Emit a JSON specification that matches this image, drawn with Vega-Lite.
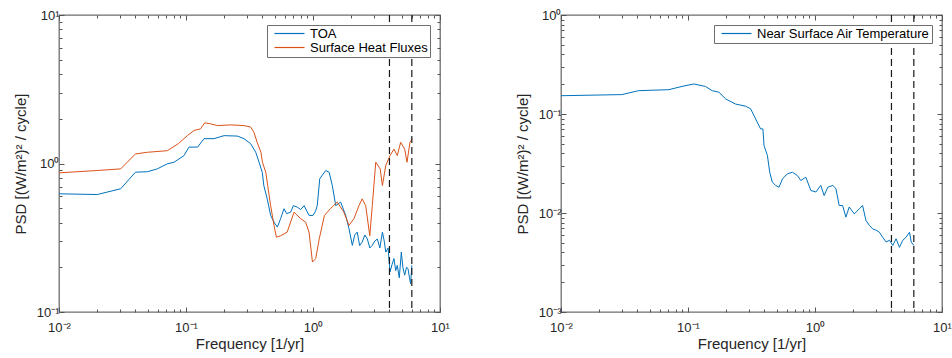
{
  "$schema": "https://vega.github.io/schema/vega-lite/v6.json",
  "padding": {"left": 12, "top": 8, "right": 0, "bottom": 0},
  "spacing": 63,
  "config": {
    "font": "Liberation Sans",
    "view": {"stroke": "#6e6e6e", "strokeWidth": 1.3},
    "axis": {"domain": false, "grid": false, "tickColor": "#555555", "labelColor": "#262626", "labelFont": "Liberation Sans", "labelFontSize": 13, "labelFlush": false, "titleFont": "Liberation Sans", "titleFontSize": 15, "titleFontWeight": "normal", "titleColor": "#262626"},
    "legend": {"title": null, "orient": "top-right", "offset": 10, "symbolType": "M-0.2,0H5.8", "symbolSize": 100, "symbolStrokeWidth": 1.2, "strokeColor": "#6e6e6e", "fillColor": "white", "padding": 2, "rowPadding": 0, "labelFontSize": 13, "labelFont": "Liberation Sans", "labelColor": "#000000", "labelOffset": 28, "labelLimit": 400}
  },
  "resolve": {"scale": {"color": "independent"}, "legend": {"color": "independent"}},
  "datasets": {
    "left": [
      {"s": "TOA", "f": 0.01, "v": 0.625}, {"s": "TOA", "f": 0.02, "v": 0.618}, {"s": "TOA", "f": 0.0306, "v": 0.676}, {"s": "TOA", "f": 0.04, "v": 0.874}, {"s": "TOA", "f": 0.0497, "v": 0.88}, {"s": "TOA", "f": 0.0594, "v": 0.92}, {"s": "TOA", "f": 0.0713, "v": 0.995}, {"s": "TOA", "f": 0.0805, "v": 1.02}, {"s": "TOA", "f": 0.0964, "v": 1.13}, {"s": "TOA", "f": 0.1056, "v": 1.29}, {"s": "TOA", "f": 0.1236, "v": 1.29}, {"s": "TOA", "f": 0.1387, "v": 1.47}, {"s": "TOA", "f": 0.166, "v": 1.47}, {"s": "TOA", "f": 0.1995, "v": 1.54}, {"s": "TOA", "f": 0.2536, "v": 1.53}, {"s": "TOA", "f": 0.286, "v": 1.47}, {"s": "TOA", "f": 0.323, "v": 1.36}, {"s": "TOA", "f": 0.354, "v": 1.19}, {"s": "TOA", "f": 0.376, "v": 1.02}, {"s": "TOA", "f": 0.399, "v": 0.87}, {"s": "TOA", "f": 0.41, "v": 0.71}, {"s": "TOA", "f": 0.436, "v": 0.578}, {"s": "TOA", "f": 0.464, "v": 0.447}, {"s": "TOA", "f": 0.493, "v": 0.403}, {"s": "TOA", "f": 0.524, "v": 0.373}, {"s": "TOA", "f": 0.556, "v": 0.425}, {"s": "TOA", "f": 0.591, "v": 0.496}, {"s": "TOA", "f": 0.62, "v": 0.46}, {"s": "TOA", "f": 0.667, "v": 0.47}, {"s": "TOA", "f": 0.7, "v": 0.52}, {"s": "TOA", "f": 0.753, "v": 0.508}, {"s": "TOA", "f": 0.8, "v": 0.49}, {"s": "TOA", "f": 0.851, "v": 0.52}, {"s": "TOA", "f": 0.931, "v": 0.447}, {"s": "TOA", "f": 1.0, "v": 0.447}, {"s": "TOA", "f": 1.05, "v": 0.48}, {"s": "TOA", "f": 1.08, "v": 0.52}, {"s": "TOA", "f": 1.13, "v": 0.789}, {"s": "TOA", "f": 1.26, "v": 0.897}, {"s": "TOA", "f": 1.34, "v": 0.874}, {"s": "TOA", "f": 1.42, "v": 0.71}, {"s": "TOA", "f": 1.51, "v": 0.52}, {"s": "TOA", "f": 1.65, "v": 0.55}, {"s": "TOA", "f": 1.81, "v": 0.447}, {"s": "TOA", "f": 1.92, "v": 0.364}, {"s": "TOA", "f": 2.04, "v": 0.281}, {"s": "TOA", "f": 2.13, "v": 0.33}, {"s": "TOA", "f": 2.23, "v": 0.345}, {"s": "TOA", "f": 2.33, "v": 0.28}, {"s": "TOA", "f": 2.44, "v": 0.296}, {"s": "TOA", "f": 2.56, "v": 0.33}, {"s": "TOA", "f": 2.68, "v": 0.31}, {"s": "TOA", "f": 2.8, "v": 0.27}, {"s": "TOA", "f": 2.93, "v": 0.281}, {"s": "TOA", "f": 3.06, "v": 0.3}, {"s": "TOA", "f": 3.21, "v": 0.31}, {"s": "TOA", "f": 3.36, "v": 0.27}, {"s": "TOA", "f": 3.52, "v": 0.345}, {"s": "TOA", "f": 3.64, "v": 0.3}, {"s": "TOA", "f": 3.74, "v": 0.253}, {"s": "TOA", "f": 3.9, "v": 0.27}, {"s": "TOA", "f": 4.04, "v": 0.186}, {"s": "TOA", "f": 4.2, "v": 0.21}, {"s": "TOA", "f": 4.34, "v": 0.229}, {"s": "TOA", "f": 4.48, "v": 0.19}, {"s": "TOA", "f": 4.61, "v": 0.206}, {"s": "TOA", "f": 4.78, "v": 0.17}, {"s": "TOA", "f": 4.96, "v": 0.253}, {"s": "TOA", "f": 5.1, "v": 0.2}, {"s": "TOA", "f": 5.27, "v": 0.177}, {"s": "TOA", "f": 5.45, "v": 0.2}, {"s": "TOA", "f": 5.6, "v": 0.196}, {"s": "TOA", "f": 5.75, "v": 0.17}, {"s": "TOA", "f": 5.87, "v": 0.155}, {"s": "TOA", "f": 6.0, "v": 0.206},
      {"s": "Surface Heat Fluxes", "f": 0.01, "v": 0.865}, {"s": "Surface Heat Fluxes", "f": 0.02, "v": 0.897}, {"s": "Surface Heat Fluxes", "f": 0.0306, "v": 0.92}, {"s": "Surface Heat Fluxes", "f": 0.04, "v": 1.16}, {"s": "Surface Heat Fluxes", "f": 0.0497, "v": 1.19}, {"s": "Surface Heat Fluxes", "f": 0.0713, "v": 1.22}, {"s": "Surface Heat Fluxes", "f": 0.087, "v": 1.36}, {"s": "Surface Heat Fluxes", "f": 0.1025, "v": 1.54}, {"s": "Surface Heat Fluxes", "f": 0.116, "v": 1.67}, {"s": "Surface Heat Fluxes", "f": 0.13, "v": 1.71}, {"s": "Surface Heat Fluxes", "f": 0.1405, "v": 1.88}, {"s": "Surface Heat Fluxes", "f": 0.156, "v": 1.85}, {"s": "Surface Heat Fluxes", "f": 0.177, "v": 1.8}, {"s": "Surface Heat Fluxes", "f": 0.2245, "v": 1.82}, {"s": "Surface Heat Fluxes", "f": 0.286, "v": 1.8}, {"s": "Surface Heat Fluxes", "f": 0.323, "v": 1.76}, {"s": "Surface Heat Fluxes", "f": 0.343, "v": 1.62}, {"s": "Surface Heat Fluxes", "f": 0.363, "v": 1.39}, {"s": "Surface Heat Fluxes", "f": 0.389, "v": 1.19}, {"s": "Surface Heat Fluxes", "f": 0.4, "v": 1.02}, {"s": "Surface Heat Fluxes", "f": 0.425, "v": 0.87}, {"s": "Surface Heat Fluxes", "f": 0.44, "v": 0.71}, {"s": "Surface Heat Fluxes", "f": 0.464, "v": 0.52}, {"s": "Surface Heat Fluxes", "f": 0.493, "v": 0.383}, {"s": "Surface Heat Fluxes", "f": 0.515, "v": 0.319}, {"s": "Surface Heat Fluxes", "f": 0.556, "v": 0.326}, {"s": "Surface Heat Fluxes", "f": 0.626, "v": 0.345}, {"s": "Surface Heat Fluxes", "f": 0.709, "v": 0.47}, {"s": "Surface Heat Fluxes", "f": 0.8, "v": 0.425}, {"s": "Surface Heat Fluxes", "f": 0.874, "v": 0.403}, {"s": "Surface Heat Fluxes", "f": 0.931, "v": 0.345}, {"s": "Surface Heat Fluxes", "f": 0.99, "v": 0.217}, {"s": "Surface Heat Fluxes", "f": 1.05, "v": 0.229}, {"s": "Surface Heat Fluxes", "f": 1.12, "v": 0.311}, {"s": "Surface Heat Fluxes", "f": 1.23, "v": 0.447}, {"s": "Surface Heat Fluxes", "f": 1.37, "v": 0.496}, {"s": "Surface Heat Fluxes", "f": 1.55, "v": 0.55}, {"s": "Surface Heat Fluxes", "f": 1.75, "v": 0.47}, {"s": "Surface Heat Fluxes", "f": 1.92, "v": 0.383}, {"s": "Surface Heat Fluxes", "f": 2.1, "v": 0.425}, {"s": "Surface Heat Fluxes", "f": 2.3, "v": 0.52}, {"s": "Surface Heat Fluxes", "f": 2.44, "v": 0.578}, {"s": "Surface Heat Fluxes", "f": 2.6, "v": 0.52}, {"s": "Surface Heat Fluxes", "f": 2.8, "v": 0.326}, {"s": "Surface Heat Fluxes", "f": 2.93, "v": 0.52}, {"s": "Surface Heat Fluxes", "f": 3.12, "v": 1.02}, {"s": "Surface Heat Fluxes", "f": 3.38, "v": 0.92}, {"s": "Surface Heat Fluxes", "f": 3.52, "v": 0.71}, {"s": "Surface Heat Fluxes", "f": 3.74, "v": 0.97}, {"s": "Surface Heat Fluxes", "f": 4.04, "v": 1.13}, {"s": "Surface Heat Fluxes", "f": 4.34, "v": 1.25}, {"s": "Surface Heat Fluxes", "f": 4.61, "v": 1.13}, {"s": "Surface Heat Fluxes", "f": 4.9, "v": 1.39}, {"s": "Surface Heat Fluxes", "f": 5.27, "v": 1.25}, {"s": "Surface Heat Fluxes", "f": 5.5, "v": 1.02}, {"s": "Surface Heat Fluxes", "f": 5.8, "v": 1.39}, {"s": "Surface Heat Fluxes", "f": 6.05, "v": 1.47}
    ],
    "right": [
      {"s": "Near Surface Air Temperature", "f": 0.01, "v": 0.153}, {"s": "Near Surface Air Temperature", "f": 0.0301, "v": 0.157}, {"s": "Near Surface Air Temperature", "f": 0.0408, "v": 0.172}, {"s": "Near Surface Air Temperature", "f": 0.0705, "v": 0.176}, {"s": "Near Surface Air Temperature", "f": 0.0898, "v": 0.19}, {"s": "Near Surface Air Temperature", "f": 0.111, "v": 0.201}, {"s": "Near Surface Air Temperature", "f": 0.137, "v": 0.19}, {"s": "Near Surface Air Temperature", "f": 0.155, "v": 0.172}, {"s": "Near Surface Air Temperature", "f": 0.175, "v": 0.166}, {"s": "Near Surface Air Temperature", "f": 0.198, "v": 0.142}, {"s": "Near Surface Air Temperature", "f": 0.237, "v": 0.126}, {"s": "Near Surface Air Temperature", "f": 0.284, "v": 0.12}, {"s": "Near Surface Air Temperature", "f": 0.311, "v": 0.113}, {"s": "Near Surface Air Temperature", "f": 0.341, "v": 0.089}, {"s": "Near Surface Air Temperature", "f": 0.373, "v": 0.0707}, {"s": "Near Surface Air Temperature", "f": 0.389, "v": 0.0707}, {"s": "Near Surface Air Temperature", "f": 0.397, "v": 0.048}, {"s": "Near Surface Air Temperature", "f": 0.422, "v": 0.0381}, {"s": "Near Surface Air Temperature", "f": 0.44, "v": 0.0258}, {"s": "Near Surface Air Temperature", "f": 0.461, "v": 0.0205}, {"s": "Near Surface Air Temperature", "f": 0.49, "v": 0.019}, {"s": "Near Surface Air Temperature", "f": 0.521, "v": 0.0182}, {"s": "Near Surface Air Temperature", "f": 0.554, "v": 0.0221}, {"s": "Near Surface Air Temperature", "f": 0.607, "v": 0.0249}, {"s": "Near Surface Air Temperature", "f": 0.664, "v": 0.0258}, {"s": "Near Surface Air Temperature", "f": 0.727, "v": 0.0239}, {"s": "Near Surface Air Temperature", "f": 0.773, "v": 0.0213}, {"s": "Near Surface Air Temperature", "f": 0.847, "v": 0.023}, {"s": "Near Surface Air Temperature", "f": 0.927, "v": 0.0169}, {"s": "Near Surface Air Temperature", "f": 1.016, "v": 0.0163}, {"s": "Near Surface Air Temperature", "f": 1.11, "v": 0.019}, {"s": "Near Surface Air Temperature", "f": 1.18, "v": 0.015}, {"s": "Near Surface Air Temperature", "f": 1.26, "v": 0.0182}, {"s": "Near Surface Air Temperature", "f": 1.38, "v": 0.019}, {"s": "Near Surface Air Temperature", "f": 1.46, "v": 0.0177}, {"s": "Near Surface Air Temperature", "f": 1.55, "v": 0.0119}, {"s": "Near Surface Air Temperature", "f": 1.65, "v": 0.0119}, {"s": "Near Surface Air Temperature", "f": 1.75, "v": 0.00908}, {"s": "Near Surface Air Temperature", "f": 1.86, "v": 0.0115}, {"s": "Near Surface Air Temperature", "f": 2.04, "v": 0.0098}, {"s": "Near Surface Air Temperature", "f": 2.23, "v": 0.011}, {"s": "Near Surface Air Temperature", "f": 2.37, "v": 0.0119}, {"s": "Near Surface Air Temperature", "f": 2.52, "v": 0.00838}, {"s": "Near Surface Air Temperature", "f": 2.68, "v": 0.0075}, {"s": "Near Surface Air Temperature", "f": 2.85, "v": 0.0069}, {"s": "Near Surface Air Temperature", "f": 3.03, "v": 0.0067}, {"s": "Near Surface Air Temperature", "f": 3.21, "v": 0.0064}, {"s": "Near Surface Air Temperature", "f": 3.41, "v": 0.0057}, {"s": "Near Surface Air Temperature", "f": 3.63, "v": 0.0051}, {"s": "Near Surface Air Temperature", "f": 3.86, "v": 0.0053}, {"s": "Near Surface Air Temperature", "f": 4.1, "v": 0.0047}, {"s": "Near Surface Air Temperature", "f": 4.35, "v": 0.0055}, {"s": "Near Surface Air Temperature", "f": 4.62, "v": 0.0045}, {"s": "Near Surface Air Temperature", "f": 4.91, "v": 0.0053}, {"s": "Near Surface Air Temperature", "f": 5.22, "v": 0.0057}, {"s": "Near Surface Air Temperature", "f": 5.55, "v": 0.0064}, {"s": "Near Surface Air Temperature", "f": 5.72, "v": 0.0051}, {"s": "Near Surface Air Temperature", "f": 6.0, "v": 0.0047}
    ],
    "dash": [{"f": 4}, {"f": 6}]
  },
  "hconcat": [
    {
      "width": 381, "height": 297,
      "data": {"name": "left"},
      "resolve": {"axis": {"x": "independent", "y": "independent"}},
      "layer": [
        {
          "mark": {"type": "line", "strokeWidth": 1, "clip": true},
          "encoding": {
            "x": {"field": "f", "type": "quantitative", "scale": {"type": "log", "domain": [0.01, 10], "nice": false},
              "axis": {"orient": "bottom", "values": [0.01, 0.1, 1, 10], "tickSize": -5, "labelPadding": 14, "title": "Frequency [1/yr]", "titlePadding": 2,
                "labelExpr": "datum.value < 0.015 ? '10⁻²' : datum.value < 0.15 ? '10⁻¹' : datum.value < 1.5 ? '10⁰' : '10¹'"}},
            "y": {"field": "v", "type": "quantitative", "scale": {"type": "log", "domain": [0.1, 10], "nice": false},
              "axis": {"orient": "left", "values": [0.1, 1, 10], "tickSize": -5, "labelPadding": 5, "title": "PSD [(W/m²)² / cycle]", "titlePadding": 8,
                "labelExpr": "datum.value < 0.15 ? '10⁻¹' : datum.value < 1.5 ? '10⁰' : '10¹'"}},
            "color": {"field": "s", "type": "nominal", "scale": {"domain": ["TOA", "Surface Heat Fluxes"], "range": ["#0072BD", "#D95319"]}}
          }
        },
        {
          "mark": {"type": "point", "opacity": 0},
          "encoding": {
            "x": {"field": "f", "type": "quantitative", "scale": {"type": "log", "domain": [0.01, 10], "nice": false},
              "axis": {"orient": "top", "values": [0.01, 0.1, 1, 10], "tickSize": -5, "labels": false, "title": null}},
            "y": {"field": "v", "type": "quantitative", "scale": {"type": "log", "domain": [0.1, 10], "nice": false},
              "axis": {"orient": "right", "values": [0.1, 1, 10], "tickSize": -5, "labels": false, "title": null}}
          }
        },
        {
          "mark": {"type": "point", "opacity": 0},
          "encoding": {
            "x": {"field": "f", "type": "quantitative", "scale": {"type": "log", "domain": [0.01, 10], "nice": false},
              "axis": {"orient": "bottom", "values": [0.02, 0.03, 0.04, 0.05, 0.06, 0.07, 0.08, 0.09, 0.2, 0.3, 0.4, 0.5, 0.6, 0.7, 0.8, 0.9, 2, 3, 4, 5, 6, 7, 8, 9], "tickSize": -3, "labels": false, "title": null}},
            "y": {"field": "v", "type": "quantitative", "scale": {"type": "log", "domain": [0.1, 10], "nice": false},
              "axis": {"orient": "left", "values": [0.2, 0.3, 0.4, 0.5, 0.6, 0.7, 0.8, 0.9, 2, 3, 4, 5, 6, 7, 8, 9], "tickSize": -3, "labels": false, "title": null}}
          }
        },
        {
          "mark": {"type": "point", "opacity": 0},
          "encoding": {
            "x": {"field": "f", "type": "quantitative", "scale": {"type": "log", "domain": [0.01, 10], "nice": false},
              "axis": {"orient": "top", "values": [0.02, 0.03, 0.04, 0.05, 0.06, 0.07, 0.08, 0.09, 0.2, 0.3, 0.4, 0.5, 0.6, 0.7, 0.8, 0.9, 2, 3, 4, 5, 6, 7, 8, 9], "tickSize": -3, "labels": false, "title": null}},
            "y": {"field": "v", "type": "quantitative", "scale": {"type": "log", "domain": [0.1, 10], "nice": false},
              "axis": {"orient": "right", "values": [0.2, 0.3, 0.4, 0.5, 0.6, 0.7, 0.8, 0.9, 2, 3, 4, 5, 6, 7, 8, 9], "tickSize": -3, "labels": false, "title": null}}
          }
        },
        {
          "data": {"name": "dash"},
          "mark": {"type": "rule", "strokeDash": [7, 4], "color": "#1a1a1a", "strokeWidth": 1.2},
          "encoding": {"x": {"field": "f", "type": "quantitative", "scale": {"type": "log", "domain": [0.01, 10], "nice": false}, "axis": null}}
        }
      ]
    },
    {
      "width": 381, "height": 297,
      "data": {"name": "right"},
      "resolve": {"axis": {"x": "independent", "y": "independent"}},
      "layer": [
        {
          "mark": {"type": "line", "strokeWidth": 1, "clip": true},
          "encoding": {
            "x": {"field": "f", "type": "quantitative", "scale": {"type": "log", "domain": [0.01, 10], "nice": false},
              "axis": {"orient": "bottom", "values": [0.01, 0.1, 1, 10], "tickSize": -5, "labelPadding": 14, "title": "Frequency [1/yr]", "titlePadding": 2,
                "labelExpr": "datum.value < 0.015 ? '10⁻²' : datum.value < 0.15 ? '10⁻¹' : datum.value < 1.5 ? '10⁰' : '10¹'"}},
            "y": {"field": "v", "type": "quantitative", "scale": {"type": "log", "domain": [0.001, 1], "nice": false},
              "axis": {"orient": "left", "values": [0.001, 0.01, 0.1, 1], "tickSize": -5, "labelPadding": 5, "title": "PSD [(W/m²)² / cycle]", "titlePadding": 8,
                "labelExpr": "datum.value < 0.0015 ? '10⁻³' : datum.value < 0.015 ? '10⁻²' : datum.value < 0.15 ? '10⁻¹' : '10⁰'"}},
            "color": {"field": "s", "type": "nominal", "scale": {"domain": ["Near Surface Air Temperature"], "range": ["#0072BD"]}}
          }
        },
        {
          "mark": {"type": "point", "opacity": 0},
          "encoding": {
            "x": {"field": "f", "type": "quantitative", "scale": {"type": "log", "domain": [0.01, 10], "nice": false},
              "axis": {"orient": "top", "values": [0.01, 0.1, 1, 10], "tickSize": -5, "labels": false, "title": null}},
            "y": {"field": "v", "type": "quantitative", "scale": {"type": "log", "domain": [0.001, 1], "nice": false},
              "axis": {"orient": "right", "values": [0.001, 0.01, 0.1, 1], "tickSize": -5, "labels": false, "title": null}}
          }
        },
        {
          "mark": {"type": "point", "opacity": 0},
          "encoding": {
            "x": {"field": "f", "type": "quantitative", "scale": {"type": "log", "domain": [0.01, 10], "nice": false},
              "axis": {"orient": "bottom", "values": [0.02, 0.03, 0.04, 0.05, 0.06, 0.07, 0.08, 0.09, 0.2, 0.3, 0.4, 0.5, 0.6, 0.7, 0.8, 0.9, 2, 3, 4, 5, 6, 7, 8, 9], "tickSize": -3, "labels": false, "title": null}},
            "y": {"field": "v", "type": "quantitative", "scale": {"type": "log", "domain": [0.001, 1], "nice": false},
              "axis": {"orient": "left", "values": [0.002, 0.003, 0.004, 0.005, 0.006, 0.007, 0.008, 0.009, 0.02, 0.03, 0.04, 0.05, 0.06, 0.07, 0.08, 0.09, 0.2, 0.3, 0.4, 0.5, 0.6, 0.7, 0.8, 0.9], "tickSize": -3, "labels": false, "title": null}}
          }
        },
        {
          "mark": {"type": "point", "opacity": 0},
          "encoding": {
            "x": {"field": "f", "type": "quantitative", "scale": {"type": "log", "domain": [0.01, 10], "nice": false},
              "axis": {"orient": "top", "values": [0.02, 0.03, 0.04, 0.05, 0.06, 0.07, 0.08, 0.09, 0.2, 0.3, 0.4, 0.5, 0.6, 0.7, 0.8, 0.9, 2, 3, 4, 5, 6, 7, 8, 9], "tickSize": -3, "labels": false, "title": null}},
            "y": {"field": "v", "type": "quantitative", "scale": {"type": "log", "domain": [0.001, 1], "nice": false},
              "axis": {"orient": "right", "values": [0.002, 0.003, 0.004, 0.005, 0.006, 0.007, 0.008, 0.009, 0.02, 0.03, 0.04, 0.05, 0.06, 0.07, 0.08, 0.09, 0.2, 0.3, 0.4, 0.5, 0.6, 0.7, 0.8, 0.9], "tickSize": -3, "labels": false, "title": null}}
          }
        },
        {
          "data": {"name": "dash"},
          "mark": {"type": "rule", "strokeDash": [7, 4], "color": "#1a1a1a", "strokeWidth": 1.2},
          "encoding": {"x": {"field": "f", "type": "quantitative", "scale": {"type": "log", "domain": [0.01, 10], "nice": false}, "axis": null}}
        }
      ]
    }
  ]
}
